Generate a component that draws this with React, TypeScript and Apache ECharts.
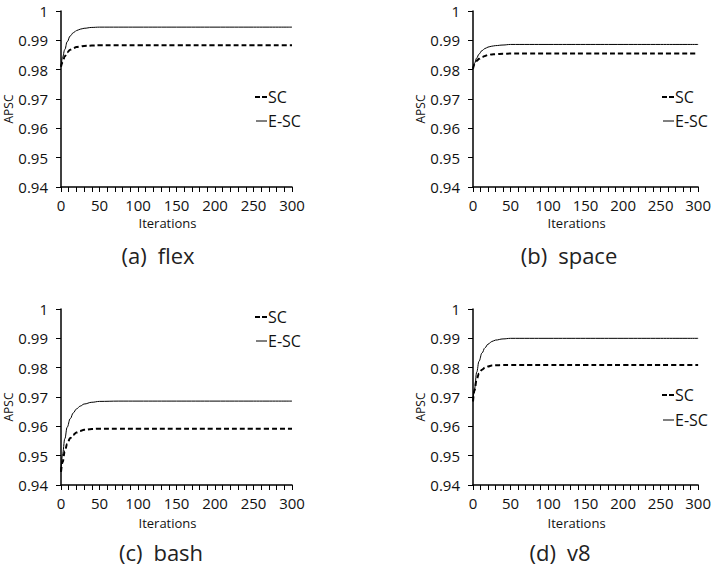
import React, { useEffect, useRef } from 'react';
import * as echarts from 'echarts';

const iterations = [0, 2, 5, 8, 12, 16, 20, 25, 30, 40, 50, 75, 100, 150, 200, 250, 300];

const flexSC = [0.9810, 0.9825, 0.9846, 0.9859, 0.9868, 0.9873, 0.9877, 0.9879, 0.9881, 0.9882, 0.9883, 0.9883, 0.9883, 0.9883, 0.9883, 0.9883, 0.9883];
const flexESC = [0.9810, 0.9842, 0.9869, 0.9895, 0.9915, 0.9926, 0.9933, 0.9938, 0.9941, 0.9944, 0.9945, 0.9945, 0.9945, 0.9945, 0.9945, 0.9945, 0.9945];

const spaceSC = [0.9803, 0.9818, 0.9830, 0.9837, 0.9843, 0.9847, 0.9850, 0.9852, 0.9853, 0.9854, 0.9855, 0.9855, 0.9855, 0.9855, 0.9855, 0.9855, 0.9855];
const spaceESC = [0.9803, 0.9822, 0.9840, 0.9853, 0.9865, 0.9872, 0.9877, 0.9880, 0.9882, 0.9884, 0.9886, 0.9886, 0.9886, 0.9886, 0.9886, 0.9886, 0.9886];

const bashSC = [0.9445, 0.9478, 0.9515, 0.9540, 0.9560, 0.9571, 0.9579, 0.9584, 0.9588, 0.9591, 0.9592, 0.9592, 0.9592, 0.9592, 0.9592, 0.9592, 0.9592];
const bashESC = [0.9445, 0.9505, 0.9558, 0.9597, 0.9626, 0.9646, 0.9659, 0.9669, 0.9676, 0.9682, 0.9685, 0.9686, 0.9686, 0.9686, 0.9686, 0.9686, 0.9686];

const v8SC = [0.9685, 0.9722, 0.9762, 0.9780, 0.9793, 0.9800, 0.9804, 0.9807, 0.9808, 0.9809, 0.9809, 0.9809, 0.9809, 0.9809, 0.9809, 0.9809, 0.9809];
const v8ESC = [0.9685, 0.9728, 0.9785, 0.9822, 0.9850, 0.9868, 0.9880, 0.9889, 0.9894, 0.9898, 0.9900, 0.9900, 0.9900, 0.9900, 0.9900, 0.9900, 0.9900];

const seriesNames = ['SC', 'E-SC'];
const captions = ['(a)\u2002flex', '(b)\u2002space', '(c)\u2002bash', '(d)\u2002v8'];
const panelData = [
  [flexSC, flexESC],
  [spaceSC, spaceESC],
  [bashSC, bashESC],
  [v8SC, v8ESC],
];

const yMin = 0.94;
const yMax = 1;
const yStep = 0.01;
const xMax = 300;
const xStep = 50;

const FONT = '"Open Sans", sans-serif';
const TXT = '#111';

// layout per panel
const panels = [
  { left: 61, top: 11, width: 231, height: 176, nameGapX: 29, legX: 255, legY1: 97, legY2: 121, capX: 158, capY: 255 },
  { left: 473, top: 11, width: 230, height: 176, nameGapX: 29, legX: 662, legY1: 97, legY2: 121, capX: 569, capY: 255 },
  { left: 61, top: 309, width: 231, height: 176, nameGapX: 31, legX: 255, legY1: 317, legY2: 341, capX: 161, capY: 552 },
  { left: 473, top: 309, width: 230, height: 176, nameGapX: 31, legX: 662, legY1: 395, legY2: 420, capX: 560, capY: 552 },
];

export default function App() {
  const ref = useRef<HTMLDivElement>(null);
  useEffect(() => {
    if (!ref.current) return;
    const chart = echarts.init(ref.current, undefined, { renderer: 'svg' });
    const grid: any[] = [];
    const xAxis: any[] = [];
    const yAxis: any[] = [];
    const series: any[] = [];
    const graphic: any[] = [];
    panels.forEach((p, i) => {
      grid.push({ left: p.left, top: p.top, width: p.width, height: p.height });
      xAxis.push({
        type: 'value',
        gridIndex: i,
        min: 0,
        max: xMax,
        interval: xStep,
        name: 'Iterations',
        nameLocation: 'middle',
        nameGap: p.nameGapX,
        nameTextStyle: { fontFamily: FONT, fontSize: 13, lineHeight: 13, color: TXT, padding: [0, 18, 0, 0] },
        axisLine: { show: true, lineStyle: { color: '#000', width: 1.5 } },
        axisTick: { show: true, length: 5, inside: false, lineStyle: { color: '#000', width: 1 } },
        minorTick: { show: true, splitNumber: 5, length: 5, lineStyle: { color: '#000', width: 1 } },
        axisLabel: { fontFamily: FONT, fontSize: 15, lineHeight: 14, color: TXT, margin: 11 },
        splitLine: { show: false },
        minorSplitLine: { show: false },
      });
      yAxis.push({
        type: 'value',
        gridIndex: i,
        min: yMin,
        max: yMax,
        interval: yStep,
        name: 'APSC',
        nameLocation: 'middle',
        nameGap: 38,
        nameTextStyle: { fontFamily: FONT, fontSize: 12, color: TXT, padding: [0, 20, 0, 0] },
        axisLine: { show: true, lineStyle: { color: '#000', width: 1.5 } },
        axisTick: { show: true, length: 5, lineStyle: { color: '#000', width: 1 } },
        axisLabel: {
          fontFamily: FONT,
          fontSize: 15,
          color: TXT,
          margin: 13,
          formatter: (v: number) => (Math.abs(v - 1) < 1e-9 ? '1' : v.toFixed(2)),
        },
        splitLine: { show: false },
      });
      const [sc, esc] = panelData[i];
      series.push({
        name: seriesNames[0],
        type: 'line',
        xAxisIndex: i,
        yAxisIndex: i,
        data: iterations.map((x, k) => [x, sc[k]]),
        symbol: 'none',
        showSymbol: false,
        smooth: 0.4,
        smoothMonotone: 'x',
        lineStyle: { color: '#000', width: 2, type: [5, 3] },
        itemStyle: { color: '#000' },
        z: 3,
      });
      series.push({
        name: seriesNames[1],
        type: 'line',
        xAxisIndex: i,
        yAxisIndex: i,
        data: iterations.map((x, k) => [x, esc[k]]),
        symbol: 'none',
        showSymbol: false,
        smooth: 0.4,
        smoothMonotone: 'x',
        lineStyle: { color: '#000', width: 1, type: 'solid' },
        itemStyle: { color: '#000' },
        z: 2,
      });
      // legend (drawn as graphic so the line samples keep their dash style)
      graphic.push({
        type: 'line',
        shape: { x1: p.legX, y1: p.legY1, x2: p.legX + 12, y2: p.legY1 },
        style: { stroke: '#000', lineWidth: 2, lineDash: [5, 2] },
      });
      graphic.push({
        type: 'text',
        x: p.legX + 13,
        y: p.legY1,
        style: { text: seriesNames[0], fontFamily: FONT, fontSize: 16, fill: TXT, textVerticalAlign: 'middle' },
      });
      graphic.push({
        type: 'line',
        shape: { x1: p.legX + 1, y1: p.legY2, x2: p.legX + 12, y2: p.legY2 },
        style: { stroke: '#000', lineWidth: 1 },
      });
      graphic.push({
        type: 'text',
        x: p.legX + 13,
        y: p.legY2,
        style: { text: seriesNames[1], fontFamily: FONT, fontSize: 16, fill: TXT, textVerticalAlign: 'middle' },
      });
      graphic.push({
        type: 'text',
        x: p.capX,
        y: p.capY,
        style: {
          text: captions[i],
          fontFamily: FONT,
          fontSize: 22,
          fill: '#222',
          textAlign: 'center',
          textVerticalAlign: 'middle',
        },
      });
    });
    chart.setOption({
      animation: false,
      backgroundColor: '#fff',
      grid,
      xAxis,
      yAxis,
      series,
      graphic,
    });
    return () => chart.dispose();
  }, []);
  return <div ref={ref} style={{ position: 'fixed', left: 0, top: 0, width: 714, height: 570 }} />;
}
